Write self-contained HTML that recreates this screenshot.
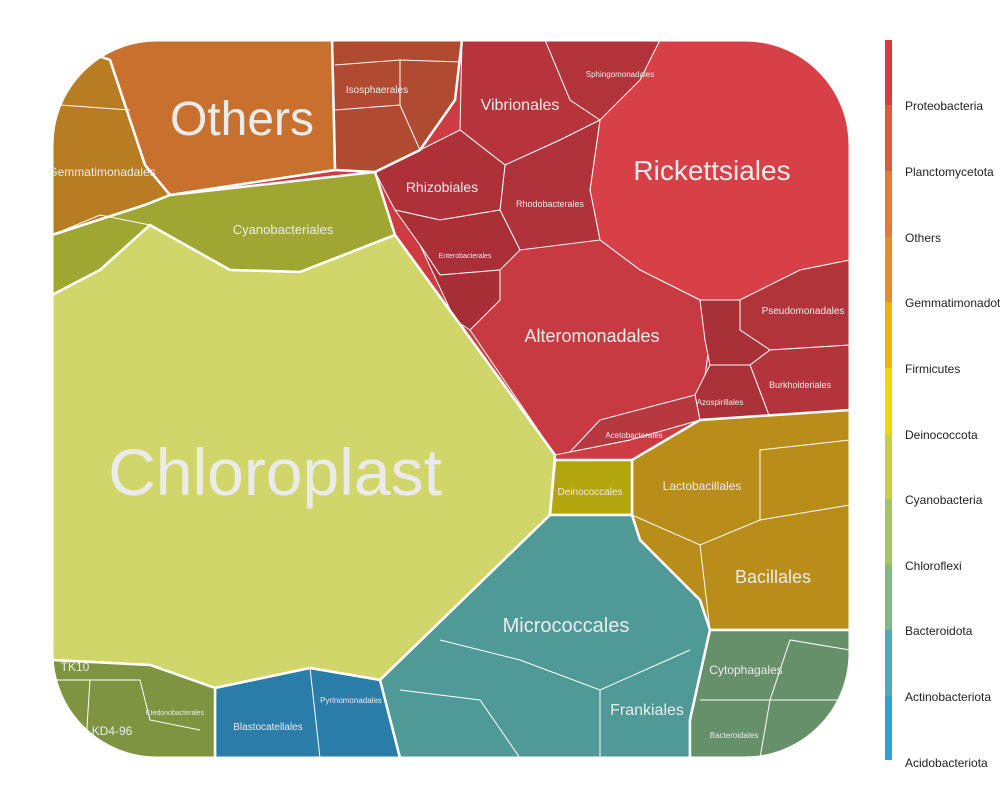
<!DOCTYPE html>
<html><head><meta charset="utf-8">
<style>
body{margin:0;background:#fff;}
svg{display:block;font-family:"Liberation Sans",sans-serif;}
</style></head>
<body>
<svg width="1000" height="800" viewBox="0 0 1000 800">
<defs>
<clipPath id="rr"><rect x="52" y="40" width="798" height="718" rx="105" ry="105"/></clipPath>
</defs>
<g clip-path="url(#rr)">
 <rect x="52" y="40" width="798" height="718" fill="#cd3c42"/>
 <polygon points="585,40 850,40 850,260 800,270 740,300 700,300 640,270 600,240 590,190 600,120" fill="#d64046" stroke="#fff" stroke-width="1"/>
 <polygon points="500,240 600,240 640,270 700,300 710,340 700,410 630,440 555,455 470,330 500,300" fill="#c73a42" stroke="#fff" stroke-width="1"/>
 <polygon points="462,40 585,40 600,120 560,140 505,165 460,130" fill="#b8343c" stroke="#fff" stroke-width="1"/>
 <polygon points="545,40 660,40 640,80 600,120 570,100" fill="#b3333a" stroke="#fff" stroke-width="1"/>
 <polygon points="505,165 560,140 600,120 590,190 600,240 520,250 500,210" fill="#b0323a" stroke="#fff" stroke-width="1"/>
 <polygon points="375,172 420,150 460,130 505,165 500,210 440,220 395,210" fill="#ae3139" stroke="#fff" stroke-width="1"/>
 <polygon points="395,210 440,220 500,210 520,250 500,270 440,275 420,245" fill="#aa2f37" stroke="#fff" stroke-width="1"/>
 <polygon points="420,245 440,275 500,270 500,300 470,330 455,320" fill="#a82e36" stroke="#fff" stroke-width="1"/>
 <polygon points="740,300 800,270 850,260 850,345 770,350 740,330" fill="#b0343a" stroke="#fff" stroke-width="1"/>
 <polygon points="700,300 740,300 740,330 770,350 750,365 710,365 705,340" fill="#a83037" stroke="#fff" stroke-width="1"/>
 <polygon points="770,350 850,345 850,410 770,418 750,365" fill="#b3353b" stroke="#fff" stroke-width="1"/>
 <polygon points="710,365 750,365 770,418 700,420 695,395" fill="#aa3138" stroke="#fff" stroke-width="1"/>
 <polygon points="600,420 695,395 700,420 630,440 570,452" fill="#b83840" stroke="#fff" stroke-width="1"/>
 <polygon points="332,40 462,40 455,100 420,150 375,172 335,170" fill="#b04a30" stroke="#fff" stroke-width="2.5"/>
 <polyline points="335,65 400,60 462,62" fill="none" stroke="#fff" stroke-width="1"/>
 <polyline points="335,110 400,105 420,150" fill="none" stroke="#fff" stroke-width="1"/>
 <polyline points="400,60 400,105" fill="none" stroke="#fff" stroke-width="1"/>
 <polygon points="52,40 332,40 335,170 170,195 145,165 110,60" fill="#c8702e" stroke="#fff" stroke-width="2.5"/>
 <polygon points="52,40 110,60 145,165 170,195 145,205 52,235" fill="#b87d22" stroke="#fff" stroke-width="2.5"/>
 <polyline points="60,105 130,110" fill="none" stroke="#fff" stroke-width="1"/>
 <polygon points="52,235 145,205 170,195 375,172 395,235 300,272 230,270 150,225 100,270 52,295" fill="#a0a632" stroke="#fff" stroke-width="2.5"/>
 <polyline points="52,235 100,215 150,225" fill="none" stroke="#fff" stroke-width="1"/>
 <polygon points="52,295 100,270 150,225 230,270 300,272 395,235 555,455 550,515 380,680 310,668 215,688 150,665 52,660" fill="#d1d66a" stroke="#fff" stroke-width="2.5"/>
 <polygon points="632,460 700,420 850,410 850,630 710,630 700,600 640,540 632,515" fill="#b98d1a" stroke="#fff" stroke-width="2.5"/>
 <polyline points="632,515 700,545 760,520 850,505" fill="none" stroke="#fff" stroke-width="1"/>
 <polyline points="760,520 760,450 850,440" fill="none" stroke="#fff" stroke-width="1"/>
 <polyline points="700,545 710,630" fill="none" stroke="#fff" stroke-width="1"/>
 <polygon points="555,460 632,460 632,515 550,515" fill="#b3a50e" stroke="#fff" stroke-width="2.5"/>
 <polygon points="550,515 632,515 640,540 700,600 710,630 690,720 690,758 400,758 380,680" fill="#4f9a97" stroke="#fff" stroke-width="2.5"/>
 <polyline points="440,640 520,660 600,690 690,650" fill="none" stroke="#fff" stroke-width="1"/>
 <polyline points="600,690 600,758" fill="none" stroke="#fff" stroke-width="1"/>
 <polyline points="400,690 480,700 520,758" fill="none" stroke="#fff" stroke-width="1"/>
 <polygon points="710,630 850,630 850,758 690,758 690,720" fill="#66906a" stroke="#fff" stroke-width="2.5"/>
 <polyline points="700,700 770,700 790,640 850,650 850,700 770,700 760,758" fill="none" stroke="#fff" stroke-width="1"/>
 <polygon points="215,688 310,668 380,680 400,758 215,758" fill="#2a7da8" stroke="#fff" stroke-width="2.5"/>
 <polyline points="310,668 320,758" fill="none" stroke="#fff" stroke-width="1"/>
 <polygon points="52,660 150,665 215,688 215,758 52,758" fill="#7e9440" stroke="#fff" stroke-width="2.5"/>
 <polyline points="52,680 140,680 150,720 200,730" fill="none" stroke="#fff" stroke-width="1"/>
 <polyline points="90,680 85,758" fill="none" stroke="#fff" stroke-width="1"/>
</g>
<rect x="52" y="40" width="798" height="718" rx="105" ry="105" fill="none" stroke="#fff" stroke-width="3"/>
<g fill="#ebebeb" text-anchor="middle">
 <text x="275" y="495" font-size="66">Chloroplast</text>
 <text x="242" y="135" font-size="48">Others</text>
 <text x="712" y="180" font-size="28">Rickettsiales</text>
 <text x="592" y="342" font-size="18">Alteromonadales</text>
 <text x="566" y="632" font-size="20">Micrococcales</text>
 <text x="773" y="583" font-size="18">Bacillales</text>
 <text x="520" y="110" font-size="16">Vibrionales</text>
 <text x="442" y="192" font-size="14">Rhizobiales</text>
 <text x="283" y="234" font-size="13">Cyanobacteriales</text>
 <text x="102" y="176" font-size="12">Gemmatimonadales</text>
 <text x="377" y="93" font-size="10">Isosphaerales</text>
 <text x="550" y="207" font-size="9">Rhodobacterales</text>
 <text x="620" y="77" font-size="8">Sphingomonadales</text>
 <text x="465" y="258" font-size="7">Enterobacterales</text>
 <text x="803" y="314" font-size="10">Pseudomonadales</text>
 <text x="800" y="388" font-size="9">Burkholderiales</text>
 <text x="720" y="405" font-size="8">Azospirillales</text>
 <text x="634" y="438" font-size="8">Acetobacterales</text>
 <text x="590" y="495" font-size="10">Deinococcales</text>
 <text x="702" y="490" font-size="12">Lactobacillales</text>
 <text x="647" y="715" font-size="16">Frankiales</text>
 <text x="746" y="674" font-size="12">Cytophagales</text>
 <text x="734" y="738" font-size="8">Bacteroidales</text>
 <text x="268" y="730" font-size="10">Blastocatellales</text>
 <text x="351" y="703" font-size="8">Pyrinomonadales</text>
 <text x="112" y="735" font-size="12">KD4-96</text>
 <text x="75" y="671" font-size="12">TK10</text>
 <text x="175" y="715" font-size="7">Ktedonobacterales</text>
</g>
<g font-size="12" fill="#222">
 <rect x="885" y="40" width="7" height="65" fill="#d63c42"/>
 <rect x="885" y="105" width="7" height="66" fill="#e05a3a"/>
 <rect x="885" y="171" width="7" height="66" fill="#e87a30"/>
 <rect x="885" y="237" width="7" height="65" fill="#ec8c28"/>
 <rect x="885" y="302" width="7" height="66" fill="#f0b010"/>
 <rect x="885" y="368" width="7" height="66" fill="#f0d808"/>
 <rect x="885" y="434" width="7" height="65" fill="#c8d040"/>
 <rect x="885" y="499" width="7" height="66" fill="#a6c466"/>
 <rect x="885" y="565" width="7" height="65" fill="#80b888"/>
 <rect x="885" y="630" width="7" height="66" fill="#50a8b8"/>
 <rect x="885" y="696" width="7" height="64" fill="#30a0d8"/>
 <text x="905" y="110">Proteobacteria</text>
 <text x="905" y="176">Planctomycetota</text>
 <text x="905" y="242">Others</text>
 <text x="905" y="307">Gemmatimonadota</text>
 <text x="905" y="373">Firmicutes</text>
 <text x="905" y="439">Deinococcota</text>
 <text x="905" y="504">Cyanobacteria</text>
 <text x="905" y="570">Chloroflexi</text>
 <text x="905" y="635">Bacteroidota</text>
 <text x="905" y="701">Actinobacteriota</text>
 <text x="905" y="767">Acidobacteriota</text>
</g>
</svg>
</body></html>
